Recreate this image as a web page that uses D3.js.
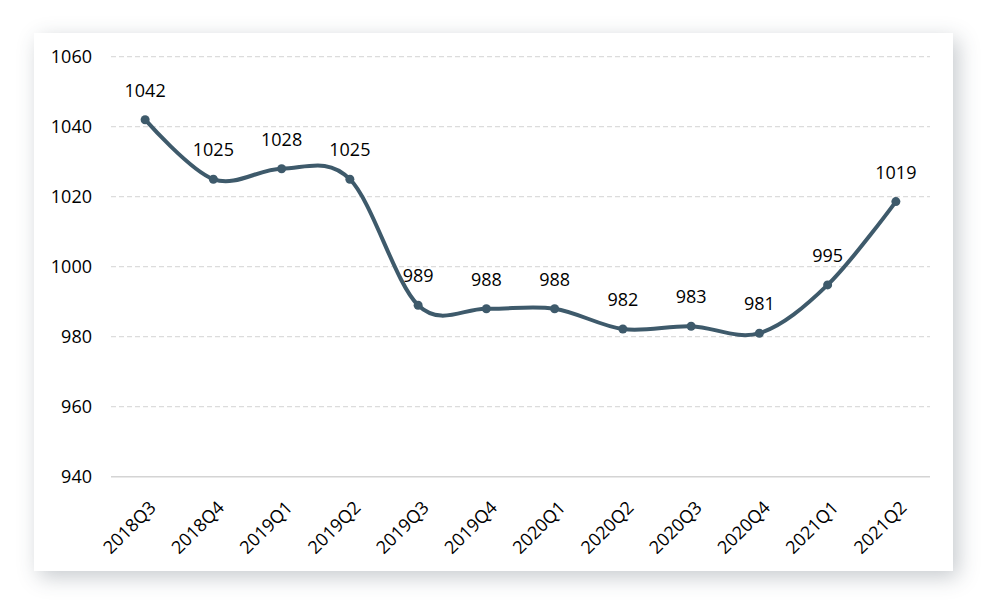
<!DOCTYPE html>
<html>
<head>
<meta charset="utf-8">
<script src="https://cdn.jsdelivr.net/npm/d3@7"></script>
<style>
  body { margin: 0; background: #fff; font-family: "Open Sans", "Noto Sans", sans-serif; }
  #card { position: absolute; left: 34px; top: 33px; width: 919px; height: 538px; background: #fff;
          box-shadow: 5px 6px 20px rgba(50, 65, 80, 0.28); }
  svg { position: absolute; left: 0; top: 0; }
</style>
</head>
<body>
<div id="card"></div>
<div id="chart"></div>
<script>
var quarters = ["2018Q3", "2018Q4", "2019Q1", "2019Q2", "2019Q3", "2019Q4",
                "2020Q1", "2020Q2", "2020Q3", "2020Q4", "2021Q1", "2021Q2"];
var values = [1042, 1025, 1028, 1025, 989, 988, 988, 982.2, 983, 981, 994.8, 1018.6];
var yTicks = [940, 960, 980, 1000, 1020, 1040, 1060];

var width = 1005, height = 616;
var svg = d3.select("#chart").append("svg")
    .attr("width", width)
    .attr("height", height);

var x = d3.scaleBand().domain(quarters).range([111, 930]);
var y = d3.scaleLinear().domain([940, 1060]).range([476.7, 56.7]);

// gridlines
svg.append("g").selectAll("line")
    .data(yTicks.slice(1))
    .enter().append("line")
    .attr("x1", 111).attr("x2", 930)
    .attr("y1", function(d) { return y(d); })
    .attr("y2", function(d) { return y(d); })
    .attr("stroke", "#dcdcdc")
    .attr("stroke-width", 1.3)
    .attr("stroke-dasharray", "5,3");

svg.append("line")
    .attr("x1", 111).attr("x2", 930)
    .attr("y1", y(940)).attr("y2", y(940))
    .attr("stroke", "#d4d4d4")
    .attr("stroke-width", 1.5);

// y axis labels
var yAxis = svg.append("g")
    .attr("transform", "translate(92,0)")
    .call(d3.axisLeft(y).tickValues(yTicks).tickFormat(d3.format("d")).tickSize(0).tickPadding(0));
yAxis.select(".domain").remove();
yAxis.selectAll("text")
    .attr("font-family", "Open Sans, Noto Sans, sans-serif")
    .attr("font-size", 18)
    .attr("fill", "#000");

// x axis labels
var xAxis = svg.append("g")
    .attr("transform", "translate(0," + y(940) + ")")
    .call(d3.axisBottom(x).tickSize(0).tickPadding(0));
xAxis.select(".domain").remove();
xAxis.selectAll("text")
    .attr("font-family", "Open Sans, Noto Sans, sans-serif")
    .attr("font-size", 18)
    .attr("fill", "#000")
    .attr("text-anchor", "end")
    .attr("dy", 0)
    .attr("transform", "translate(12,32) rotate(-45)");

var cx = function(d, i) { return x(quarters[i]) + x.bandwidth() / 2; };

var line = d3.line()
    .x(cx)
    .y(function(d) { return y(d); })
    .curve(d3.curveCardinal.tension(0));

svg.append("path")
    .datum(values)
    .attr("d", line)
    .attr("fill", "none")
    .attr("stroke", "#3e5a6b")
    .attr("stroke-width", 4)
    .attr("stroke-linejoin", "round");

svg.append("g").selectAll("circle")
    .data(values)
    .enter().append("circle")
    .attr("cx", cx)
    .attr("cy", function(d) { return y(d); })
    .attr("r", 4.5)
    .attr("fill", "#3e5a6b");

svg.append("g").selectAll("text")
    .data(values)
    .enter().append("text")
    .attr("x", cx)
    .attr("y", function(d) { return y(d) - 23; })
    .attr("text-anchor", "middle")
    .attr("font-family", "Open Sans, Noto Sans, sans-serif")
    .attr("font-size", 18)
    .attr("fill", "#000")
    .text(function(d) { return Math.round(d); });
</script>
</body>
</html>
